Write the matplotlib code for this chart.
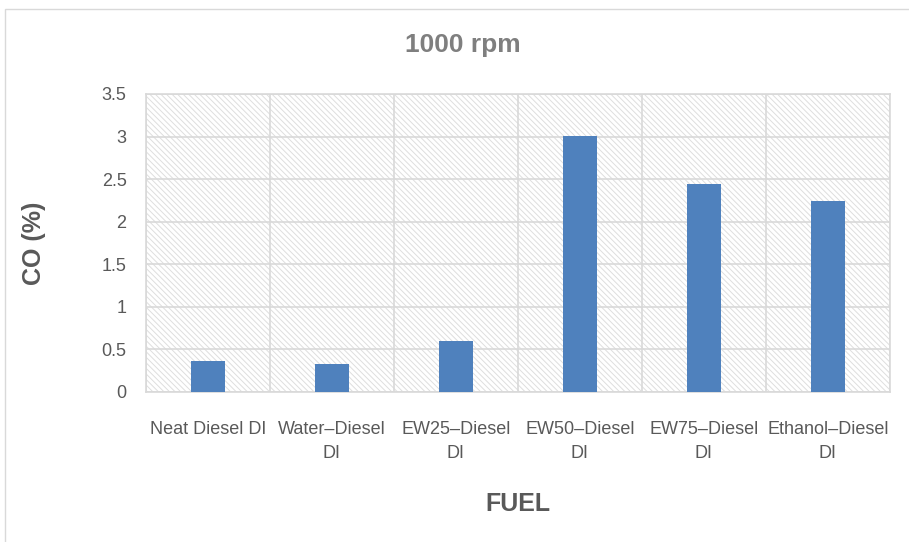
import numpy as np
import matplotlib.pyplot as plt
from matplotlib.patches import Rectangle

# data
fuels = ['Neat Diesel DI', 'Water\u2013Diesel\nDI', 'EW25\u2013Diesel\nDI',
         'EW50\u2013Diesel\nDI', 'EW75\u2013Diesel\nDI', 'Ethanol\u2013Diesel\nDI']
co_pct = [0.36, 0.33, 0.60, 3.01, 2.44, 2.24]
y_ticks = [0, 0.5, 1, 1.5, 2, 2.5, 3, 3.5]
y_tick_labels = ['0', '0.5', '1', '1.5', '2', '2.5', '3', '3.5']

plt.rcParams['font.family'] = ['Liberation Sans', 'DejaVu Sans']
plt.rcParams['hatch.color'] = '#dedede'
plt.rcParams['hatch.linewidth'] = 0.7

fig = plt.figure(figsize=(9.09, 5.42), dpi=100)
ax = fig.add_axes([146 / 909, 1 - 392 / 542, 744 / 909, 298 / 542])

# outer chart border
fig.patches.append(Rectangle((5 / 909, -0.02), 1.1, 1 - 9 / 542 + 0.02, transform=fig.transFigure,
                             fill=False, edgecolor='#d9d9d9', linewidth=1))

# hatched plot area
ax.set_facecolor('white')
ax.add_patch(Rectangle((0, 0), 1, 1, transform=ax.transAxes, facecolor='white',
                       edgecolor='#dedede', hatch='\\\\\\\\\\\\', linewidth=0, zorder=0))

x = np.arange(len(fuels))
ax.bar(x, co_pct, width=0.27, color='#4f81bd', zorder=3)

ax.set_xlim(-0.5, len(fuels) - 0.5)
ax.set_ylim(0, 3.5)
ax.set_yticks(y_ticks)
ax.set_yticklabels(y_tick_labels)
ax.set_xticks(x)
ax.set_xticklabels(fuels, linespacing=1.5)
ax.set_xticks(np.arange(-0.5, len(fuels), 1), minor=True)

ax.grid(axis='y', which='major', color='#d9d9d9', linewidth=1.2, zorder=1)
ax.grid(axis='x', which='minor', color='#d9d9d9', linewidth=1.2, zorder=1)
ax.tick_params(axis='both', which='both', length=0, colors='#595959', labelsize=13)
ax.tick_params(axis='x', pad=21)
ax.tick_params(axis='y', pad=14)
for s in ax.spines.values():
    s.set_color('#d9d9d9')
    s.set_linewidth(1.2)

fig.text(463 / 909, 1 - 45 / 542, '1000 rpm', ha='center', va='center',
         fontsize=19, fontweight='bold', color='#7f7f7f')
ax.set_ylabel('CO (%)', fontsize=18, fontweight='bold', color='#595959', labelpad=40)
ax.set_xlabel('FUEL', fontsize=18, fontweight='bold', color='#595959', labelpad=22)

fig.savefig('out.png', dpi=100)
